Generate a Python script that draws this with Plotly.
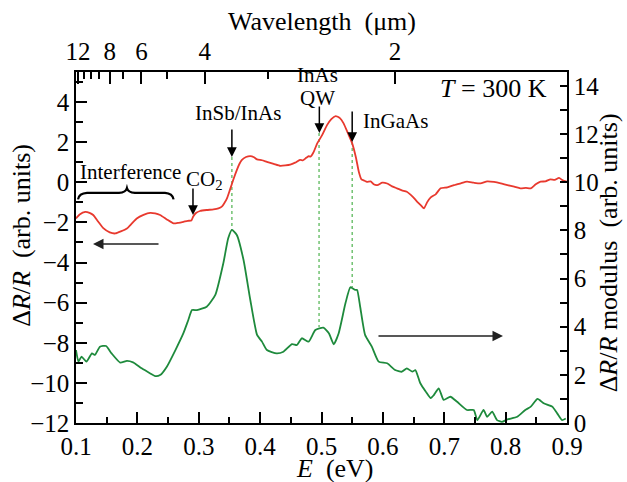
import plotly.graph_objects as go

# ---------------- data ----------------
E_red = [0.100, 0.106, 0.115, 0.122, 0.128, 0.136, 0.145, 0.155, 0.164, 0.173,
         0.183, 0.191, 0.199, 0.210, 0.221, 0.229, 0.237, 0.248, 0.259, 0.267,
         0.275, 0.282, 0.288, 0.291, 0.296, 0.302, 0.313, 0.324, 0.332, 0.338,
         0.342, 0.346, 0.350, 0.354, 0.358, 0.362, 0.366, 0.370, 0.377, 0.384,
         0.390, 0.395, 0.403, 0.411, 0.422, 0.433, 0.441, 0.449, 0.457, 0.465,
         0.470, 0.475, 0.479, 0.482, 0.487, 0.493, 0.501, 0.509, 0.516, 0.523,
         0.530, 0.536, 0.543, 0.550, 0.556, 0.561, 0.565, 0.570, 0.574, 0.580,
         0.585, 0.591, 0.599, 0.607, 0.615, 0.623, 0.631, 0.639, 0.648, 0.656,
         0.662, 0.667, 0.672, 0.678, 0.686, 0.694, 0.705, 0.716, 0.727, 0.737,
         0.748, 0.759, 0.770, 0.781, 0.792, 0.803, 0.814, 0.824, 0.833, 0.841,
         0.849, 0.857, 0.865, 0.873, 0.880, 0.887, 0.893, 0.900]
dR_red = [-1.80, -1.60, -1.47, -1.52, -1.63, -1.95, -2.30, -2.50, -2.55, -2.45,
          -2.30, -2.05, -1.80, -1.62, -1.52, -1.55, -1.63, -1.85, -2.05, -2.02,
          -1.97, -1.92, -1.90, -1.70, -1.52, -1.43, -1.38, -1.35, -1.30, -1.20,
          -1.02, -0.80, -0.45, -0.08, 0.28, 0.61, 0.90, 1.11, 1.26, 1.31,
          1.25, 1.14, 1.10, 1.02, 0.92, 0.82, 0.84, 0.88, 0.98, 1.12,
          1.10, 1.22, 1.30, 1.28, 1.50, 1.94, 2.35, 2.85, 3.15, 3.30,
          3.20, 2.94, 2.45, 1.94, 1.25, 0.50, 0.15, 0.08, 0.02, 0.05,
          -0.10, -0.14, -0.02, -0.06, -0.20, -0.30, -0.40, -0.47, -0.70, -0.97,
          -1.15, -1.30, -1.00, -0.75, -0.60, -0.30, -0.25, -0.14, -0.05, 0.03,
          -0.02, -0.05, 0.05, 0.02, -0.05, -0.14, -0.22, -0.30, -0.28, -0.30,
          -0.10, 0.03, 0.05, 0.15, 0.12, 0.22, 0.10, 0.03]

E_green = [0.100, 0.104, 0.109, 0.117, 0.126, 0.131, 0.139, 0.149, 0.158, 0.172,
           0.183, 0.193, 0.207, 0.221, 0.229, 0.237, 0.248, 0.262, 0.275, 0.283,
           0.289, 0.297, 0.313, 0.327, 0.340, 0.348, 0.354, 0.362, 0.373, 0.384,
           0.395, 0.403, 0.411, 0.427, 0.438, 0.452, 0.460, 0.468, 0.479, 0.490,
           0.503, 0.512, 0.520, 0.528, 0.539, 0.547, 0.555, 0.558, 0.563, 0.571,
           0.582, 0.593, 0.607, 0.620, 0.631, 0.639, 0.648, 0.653, 0.661, 0.670,
           0.678, 0.683, 0.691, 0.699, 0.710, 0.721, 0.737, 0.748, 0.754, 0.764,
           0.770, 0.778, 0.786, 0.794, 0.803, 0.819, 0.832, 0.841, 0.852, 0.862,
           0.876, 0.884, 0.892, 0.898]
mod_green = [3.03, 2.55, 2.76, 2.55, 2.89, 2.83, 3.17, 3.20, 2.89, 2.51,
             2.58, 2.52, 2.27, 2.06, 1.95, 1.99, 2.34, 3.03, 3.73, 4.28,
             4.69, 4.69, 4.83, 5.32, 6.63, 7.67, 8.02, 7.81, 6.77, 5.11,
             3.66, 3.38, 3.03, 2.89, 2.96, 3.28, 3.24, 3.52, 3.38, 3.86,
             3.96, 3.73, 3.27, 3.73, 4.97, 5.64, 5.53, 5.53, 4.83, 3.66,
             3.17, 2.55, 2.48, 2.20, 2.13, 2.27, 2.13, 2.20, 1.65, 1.30,
             1.03, 1.16, 1.44, 0.96, 1.09, 0.88, 0.54, 0.54, 0.12, 0.54,
             0.26, 0.47, 0.12, 0.05, 0.15, 0.26, 0.54, 0.68, 1.00, 0.82,
             0.68, 0.40, 0.12, 0.19]

wl_major = [12, 8, 6, 4, 2]
wl_minor = [11, 10, 9, 7, 5, 3]
HC = 1.23984  # eV*um

# feature energies (eV) marked by arrows / dotted lines
feat_E = [0.354, 0.496, 0.550]
feat_top = [1.26, 2.46, 2.01]
feat_bot = [-2.38, -7.21, -5.22]

FONT = "Liberation Serif, Times New Roman, Times, serif"
RED = "#e8392e"
GREEN = "#1e8a3c"

fig = go.Figure()
fig.add_trace(go.Scatter(x=E_red, y=dR_red, mode="lines",
                         line=dict(color=RED, width=1.8, shape="spline", smoothing=0.5),
                         xaxis="x", yaxis="y", showlegend=False, hoverinfo="skip"))
fig.add_trace(go.Scatter(x=E_green, y=mod_green, mode="lines",
                         line=dict(color=GREEN, width=1.8, shape="spline", smoothing=0.5),
                         xaxis="x", yaxis="y2", showlegend=False, hoverinfo="skip"))

tickfont = dict(family=FONT, size=25, color="black")
axcommon = dict(showline=True, linecolor="black", linewidth=1.5, ticks="inside",
                tickcolor="black", tickwidth=1.5, showgrid=False, zeroline=False,
                tickfont=tickfont, automargin=False)

fig.update_layout(
    width=627, height=482,
    margin=dict(l=76, r=60, t=72, b=59),
    paper_bgcolor="white", plot_bgcolor="white",
    font=dict(family=FONT, color="black"),
    xaxis=dict(range=[0.1, 0.9], tickvals=[0.1, 0.2, 0.3, 0.4, 0.5, 0.6, 0.7, 0.8, 0.9],
               ticktext=["0.1", "0.2", "0.3", "0.4", "0.5", "0.6", "0.7", "0.8", "0.9"],
               ticklen=11, minor=dict(dtick=0.05, tick0=0.1, ticklen=6, ticks="inside",
                                      tickcolor="black", tickwidth=1.5),
               **axcommon),
    xaxis2=dict(range=[0.1, 0.9], overlaying="x", side="top", anchor="y",
                tickvals=[HC / w for w in wl_major], ticktext=[str(w) for w in wl_major],
                ticklen=12,
                minor=dict(tickmode="array", tickvals=[HC / w for w in wl_minor],
                           ticklen=7, ticks="inside", tickcolor="black", tickwidth=1.5),
                **axcommon),
    yaxis=dict(range=[-12, 5.5], tickvals=[4, 2, 0, -2, -4, -6, -8, -10, -12],
               ticklen=11, minor=dict(dtick=1, tick0=0, ticklen=7, ticks="inside",
                                      tickcolor="black", tickwidth=1.5),
               **axcommon),
    yaxis2=dict(range=[0, 14.58], overlaying="y", side="right", anchor="x",
                tickvals=[0, 2, 4, 6, 8, 10, 12, 14], ticklen=7,
                minor=dict(dtick=1, tick0=0, ticklen=7, ticks="inside",
                           tickcolor="black", tickwidth=1.5),
                **axcommon),
)

# invisible trace to activate xaxis2
fig.add_trace(go.Scatter(x=[0.5], y=[0], xaxis="x2", yaxis="y", mode="markers",
                         marker=dict(opacity=0), showlegend=False, hoverinfo="skip"))

ann = []
tf = dict(family=FONT, size=26, color="black")
af = dict(family=FONT, size=21, color="black")
# axis titles
ann.append(dict(text="Wavelength  (μm)", xref="paper", yref="paper", x=0.501, y=1.145,
                showarrow=False, font=tf, xanchor="center", yanchor="middle"))
ann.append(dict(text="<i>E</i>  (eV)", xref="paper", yref="paper", x=0.527, y=-0.13,
                showarrow=False, font=tf, xanchor="center", yanchor="middle"))
ann.append(dict(text="Δ<i>R</i>/<i>R</i>  (arb. units)", xref="paper", yref="paper",
                x=-0.11, y=0.536, textangle=-90, showarrow=False, font=tf,
                xanchor="center", yanchor="middle"))
ann.append(dict(text="Δ<i>R</i>/<i>R</i> modulus  (arb. units)", xref="paper", yref="paper",
                x=1.084, y=0.484, textangle=-90, showarrow=False, font=tf,
                xanchor="center", yanchor="middle"))
ann.append(dict(text="<i>T</i> = 300 K", xref="paper", yref="paper", x=0.963, y=0.954,
                showarrow=False, font=tf, xanchor="right", yanchor="middle"))

# labels
ann.append(dict(text="InSb/InAs", x=0.364, y=3.46, xref="x", yref="y", showarrow=False,
                font=af, xanchor="center", yanchor="middle"))
ann.append(dict(text="InAs", x=0.494, y=5.35, xref="x", yref="y", showarrow=False,
                font=af, xanchor="center", yanchor="middle"))
ann.append(dict(text="QW", x=0.494, y=4.20, xref="x", yref="y", showarrow=False,
                font=af, xanchor="center", yanchor="middle"))
ann.append(dict(text="InGaAs", x=0.5644, y=3.06, xref="x", yref="y", showarrow=False,
                font=af, xanchor="left", yanchor="middle"))
ann.append(dict(text="CO<sub>2</sub>", x=0.310, y=0.10, xref="x", yref="y", showarrow=False,
                font=af, xanchor="center", yanchor="middle"))
ann.append(dict(text="Interference", x=0.188, y=0.51, xref="x", yref="y", showarrow=False,
                font=af, xanchor="center", yanchor="middle"))

# down arrows
arrows = [(0.354, 1.26, 2.71), (0.4965, 2.46, 3.85), (0.550, 2.01, 3.61), (0.2906, -1.63, -0.23)]
for (xa, ytip, ytail) in arrows:
    ann.append(dict(x=xa, y=ytip, ax=xa, ay=ytail, xref="x", yref="y", axref="x", ayref="y",
                    showarrow=True, arrowhead=2, arrowsize=1.3, arrowwidth=1.5,
                    arrowcolor="black", text=""))
# horizontal arrows
ann.append(dict(x=0.1277, y=-3.08, ax=0.2369, ay=-3.08, xref="x", yref="y", axref="x",
                ayref="y", showarrow=True, arrowhead=2, arrowsize=1.4, arrowwidth=1.5,
                arrowcolor="#222222", text=""))
ann.append(dict(x=0.7957, y=-7.66, ax=0.5904, ay=-7.66, xref="x", yref="y", axref="x",
                ayref="y", showarrow=True, arrowhead=2, arrowsize=1.4, arrowwidth=1.5,
                arrowcolor="#222222", text=""))
fig.update_layout(annotations=ann)

shapes = []
for xe, yt, yb in zip(feat_E, feat_top, feat_bot):
    shapes.append(dict(type="line", x0=xe, x1=xe, y0=yt, y1=yb, xref="x", yref="y",
                       line=dict(color="#5cb85c", width=1.3, dash="dot"), layer="below"))
# curly brace
brace = ("M 0.1033,-0.85 Q 0.105,-0.55 0.118,-0.53 L 0.170,-0.53 "
         "Q 0.181,-0.50 0.183,-0.28 Q 0.185,-0.50 0.196,-0.53 L 0.245,-0.53 "
         "Q 0.257,-0.55 0.259,-0.85")
shapes.append(dict(type="path", path=brace, xref="x", yref="y",
                   line=dict(color="black", width=2.2)))
fig.update_layout(shapes=shapes)

fig.write_html("out.html", config={"displayModeBar": False},
               post_script="document.body.style.margin='0';document.body.style.padding='0';")
